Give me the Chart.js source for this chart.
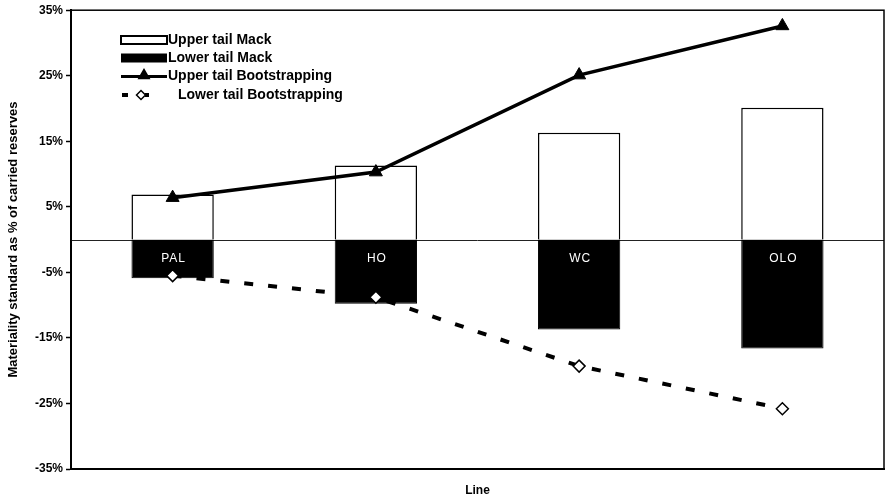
<!DOCTYPE html>
<html lang="en">
<head>
    <meta charset="UTF-8">
    <title>Materiality standard</title>
    <style>
        body {
            margin: 0;
            background-color: #fff;
        }
        canvas {
            display: block;
        }
    </style>
    <script src="https://cdn.jsdelivr.net/npm/chart.js"></script>
</head>
<body>
    <canvas id="chart" width="886" height="502"></canvas>
    <script>
        const lines = ['PAL', 'HO', 'WC', 'OLO'];
        const upperMack = [6.9, 11.3, 16.3, 20.1];
        const lowerMack = [-5.9, -9.8, -13.7, -16.6];
        const upperBoot = [6.4, 10.3, 25.1, 32.6];
        const lowerBoot = [-5.5, -8.8, -19.3, -25.8];
        const yTicks = [-35, -25, -15, -5, 5, 15, 25, 35];

        const FONT = '"Liberation Sans", Arial, sans-serif';

        // zero line + the frame round the plot
        const framePlugin = {
            id: 'frame',
            beforeDatasetsDraw(chart) {
                const {ctx, chartArea: a, scales: {y}} = chart;
                const y0 = Math.round(y.getPixelForValue(0)) + 0.5;
                ctx.save();
                ctx.strokeStyle = '#222';
                ctx.lineWidth = 1;
                ctx.beginPath();
                ctx.moveTo(a.left, y0);
                ctx.lineTo(a.right, y0);
                ctx.stroke();
                ctx.restore();
            },
            afterDraw(chart) {
                const {ctx, chartArea: a} = chart;
                ctx.save();
                ctx.strokeStyle = '#000';
                ctx.lineWidth = 1.5;
                ctx.strokeRect(a.left, a.top, a.right - a.left, a.bottom - a.top);
                ctx.restore();
            }
        };

        // category names written inside the black bars
        const catLabels = {
            id: 'catLabels',
            afterDatasetsDraw(chart) {
                const {ctx, scales: {x, y}} = chart;
                ctx.save();
                ctx.fillStyle = '#fff';
                ctx.font = '12px ' + FONT;
                ctx.letterSpacing = '1px';
                ctx.textAlign = 'center';
                ctx.textBaseline = 'middle';
                lines.forEach((name, i) => {
                    ctx.fillText(name, x.getPixelForValue(i) + 1, y.getPixelForValue(0) + 19);
                });
                ctx.restore();
            }
        };

        // legend drawn inside the plot, top left
        const boxLegend = {
            id: 'boxLegend',
            afterDraw(chart) {
                const {ctx} = chart;
                const ds = chart.data.datasets;
                const x0 = 121, x1 = 167, rows = [40, 58, 76.5, 95];
                ctx.save();
                ctx.font = 'bold 14px ' + FONT;
                ctx.textBaseline = 'middle';

                // Upper tail Mack
                ctx.fillStyle = '#fff';
                ctx.fillRect(x0, rows[0] - 4, x1 - x0, 8);
                ctx.strokeStyle = '#000';
                ctx.lineWidth = 2;
                ctx.strokeRect(x0, rows[0] - 4, x1 - x0, 8);
                // Lower tail Mack
                ctx.fillStyle = '#000';
                ctx.fillRect(x0, rows[1] - 4.5, x1 - x0, 9);
                // Upper tail Bootstrapping
                ctx.lineWidth = 3;
                ctx.beginPath();
                ctx.moveTo(x0, rows[2]);
                ctx.lineTo(x1, rows[2]);
                ctx.stroke();
                Chart.helpers.drawPoint(ctx, {pointStyle: 'triangle', radius: 4.5, rotation: 0, borderWidth: 1}, (x0 + x1) / 2, rows[2] - 1);
                ctx.fill();
                // Lower tail Bootstrapping
                ctx.lineWidth = 4;
                ctx.beginPath();
                ctx.moveTo(x0 + 1, rows[3]);
                ctx.lineTo(x0 + 7, rows[3]);
                ctx.moveTo(x0 + 24, rows[3]);
                ctx.lineTo(x0 + 28, rows[3]);
                ctx.stroke();
                ctx.fillStyle = '#fff';
                ctx.lineWidth = 1.5;
                Chart.helpers.drawPoint(ctx, {pointStyle: 'rectRot', radius: 4.5, rotation: 0, borderWidth: 1.5}, x0 + 20, rows[3]);

                ctx.fillStyle = '#000';
                ctx.fillText(ds[0].label, 168, rows[0]);
                ctx.fillText(ds[1].label, 168, rows[1]);
                ctx.fillText(ds[2].label, 168, rows[2]);
                ctx.fillText(ds[3].label, 178, rows[3]);
                ctx.restore();
            }
        };

        new Chart(document.getElementById('chart'), {
            data: {
                labels: lines,
                datasets: [
                    {
                        type: 'bar',
                        label: 'Upper tail Mack',
                        data: upperMack,
                        backgroundColor: '#fff',
                        borderColor: '#000',
                        borderWidth: 1.5,
                        grouped: false,
                        order: 2
                    },
                    {
                        type: 'bar',
                        label: 'Lower tail Mack',
                        data: lowerMack,
                        backgroundColor: '#000',
                        borderColor: '#000',
                        borderWidth: 1,
                        grouped: false,
                        order: 2
                    },
                    {
                        type: 'line',
                        label: 'Upper tail Bootstrapping',
                        data: upperBoot,
                        borderColor: '#000',
                        backgroundColor: '#000',
                        borderWidth: 3.5,
                        pointStyle: 'triangle',
                        pointRadius: 7.5,
                        pointBorderWidth: 1,
                        tension: 0,
                        order: 1
                    },
                    {
                        type: 'line',
                        label: 'Lower tail Bootstrapping',
                        data: lowerBoot,
                        borderColor: '#000',
                        borderWidth: 4,
                        borderDash: [9, 15],
                        pointStyle: 'rectRot',
                        pointRadius: 6,
                        pointBackgroundColor: '#fff',
                        pointBorderColor: '#000',
                        pointBorderWidth: 1.5,
                        tension: 0,
                        order: 1
                    }
                ]
            },
            options: {
                responsive: false,
                animation: false,
                layout: {
                    autoPadding: false,
                    padding: {top: 10, right: 2, left: 0, bottom: 0}
                },
                datasets: {
                    bar: {
                        categoryPercentage: 1,
                        barPercentage: 0.405
                    }
                },
                plugins: {
                    legend: {display: false},
                    tooltip: {enabled: false}
                },
                scales: {
                    x: {
                        grid: {display: false},
                        ticks: {display: false},
                        border: {display: true, color: '#000', width: 2},
                        title: {
                            display: true,
                            text: 'Line',
                            color: '#000',
                            font: {family: FONT, size: 12, weight: 'bold'},
                            padding: {top: 0, bottom: 4}
                        },
                        afterFit(scale) {
                            scale.height = 33;
                        }
                    },
                    y: {
                        min: yTicks[0],
                        max: yTicks[yTicks.length - 1],
                        afterBuildTicks(scale) {
                            scale.ticks = yTicks.map(v => ({value: v}));
                        },
                        grid: {
                            drawOnChartArea: false,
                            drawTicks: true,
                            tickLength: 5,
                            tickColor: '#000',
                            tickWidth: 1.5
                        },
                        border: {display: true, color: '#000', width: 2},
                        ticks: {
                            color: '#000',
                            padding: 3,
                            font: {family: FONT, size: 12, weight: 'bold'},
                            callback: v => v + '%'
                        },
                        title: {
                            display: true,
                            text: 'Materiality standard as % of carried reserves',
                            color: '#000',
                            font: {family: FONT, size: 13, weight: 'bold'},
                            padding: {top: 6, bottom: 0}
                        },
                        afterFit(scale) {
                            scale.width = 71;
                        }
                    }
                }
            },
            plugins: [framePlugin, catLabels, boxLegend]
        });
    </script>
</body>
</html>
